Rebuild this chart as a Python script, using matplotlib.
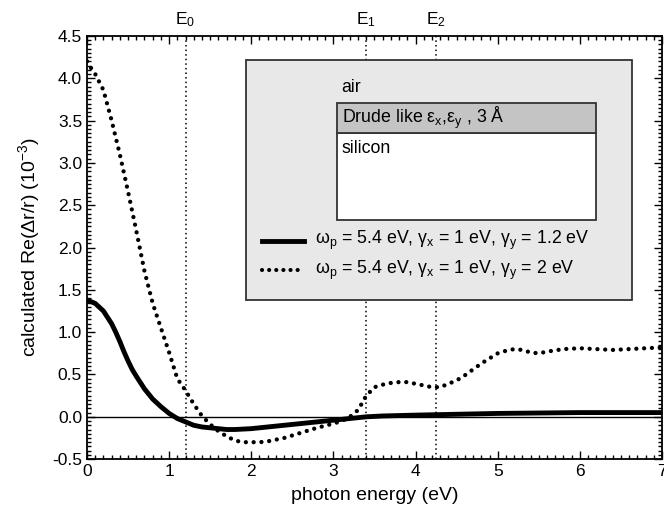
import matplotlib
matplotlib.use("Agg")
import matplotlib.pyplot as plt
from matplotlib.patches import Rectangle
from matplotlib.ticker import MultipleLocator

plt.rcParams['font.family'] = ['Liberation Sans', 'DejaVu Sans']
plt.rcParams['mathtext.fontset'] = 'custom'
plt.rcParams['mathtext.rm'] = 'Liberation Sans'
plt.rcParams['mathtext.it'] = 'Liberation Sans:italic'

# data
x_solid = [0, 0.1, 0.2, 0.3, 0.35, 0.4, 0.45, 0.5, 0.55, 0.6, 0.7, 0.8, 0.9, 1.0, 1.1, 1.2,
           1.3, 1.4, 1.5, 1.6, 1.7, 1.8, 2.0, 2.2, 2.4, 2.6, 2.8, 3.0, 3.2, 3.4, 3.6, 4.0,
           4.5, 5.0, 6.0, 7.0]
y_solid = [1.38, 1.34, 1.25, 1.10, 1.00, 0.89, 0.77, 0.66, 0.56, 0.48, 0.33, 0.21, 0.12,
           0.04, -0.02, -0.06, -0.10, -0.12, -0.13, -0.14, -0.15, -0.15, -0.14, -0.12,
           -0.10, -0.08, -0.06, -0.04, -0.02, 0.0, 0.01, 0.02, 0.03, 0.04, 0.05, 0.05]

x_dot = [0, 0.05, 0.1, 0.2, 0.3, 0.4, 0.5, 0.6, 0.7, 0.8, 0.9, 1.0, 1.1, 1.2, 1.3, 1.4,
         1.5, 1.6, 1.7, 1.8, 1.9, 2.0, 2.1, 2.2, 2.4, 2.6, 2.8, 3.0, 3.1, 3.2, 3.3, 3.4,
         3.5, 3.6, 3.7, 3.8, 3.9, 4.0, 4.1, 4.2, 4.3, 4.4, 4.5, 4.6, 4.7, 4.8, 4.9, 5.0,
         5.1, 5.2, 5.3, 5.4, 5.5, 5.6, 5.8, 6.0, 6.2, 6.4, 6.6, 6.8, 7.0]
y_dot = [4.2, 4.12, 4.05, 3.86, 3.5, 3.1, 2.66, 2.2, 1.72, 1.34, 1.05, 0.76, 0.45, 0.31,
         0.15, 0.01, -0.09, -0.17, -0.23, -0.28, -0.30, -0.30, -0.30, -0.29, -0.25, -0.19,
         -0.13, -0.08, -0.05, 0.0, 0.08, 0.25, 0.35, 0.38, 0.40, 0.41, 0.41, 0.39, 0.37,
         0.35, 0.35, 0.39, 0.43, 0.49, 0.56, 0.63, 0.69, 0.75, 0.78, 0.80, 0.79, 0.76,
         0.75, 0.77, 0.80, 0.81, 0.80, 0.79, 0.80, 0.81, 0.82]

transitions = [1.2, 3.4, 4.25]
transition_labels = ['E$_0$', 'E$_1$', 'E$_2$']
x_ticks = [0, 1, 2, 3, 4, 5, 6, 7]
y_ticks = [-0.5, 0.0, 0.5, 1.0, 1.5, 2.0, 2.5, 3.0, 3.5, 4.0, 4.5]

label_solid = 'ω$_{\\rm p}$ = 5.4 eV, γ$_{\\rm x}$ = 1 eV, γ$_{\\rm y}$ = 1.2 eV'
label_dot = 'ω$_{\\rm p}$ = 5.4 eV, γ$_{\\rm x}$ = 1 eV, γ$_{\\rm y}$ = 2 eV'

DOTS = (0, (0.01, 1.8))

fig = plt.figure(figsize=(6.64, 5.13), dpi=100)
ax = fig.add_axes([0.131, 0.105, 0.866, 0.825])

ax.set_xlim(0, 7)
ax.set_ylim(-0.5, 4.5)
ax.set_xticks(x_ticks)
ax.set_yticks(y_ticks)
ax.set_yticklabels([f'{v:.1f}' for v in y_ticks])
ax.xaxis.set_minor_locator(MultipleLocator(0.1))
ax.yaxis.set_minor_locator(MultipleLocator(0.05))
ax.tick_params(which='both', direction='in', top=True, right=True, labelsize=12.5, width=1)
ax.tick_params(which='major', length=6)
ax.tick_params(which='minor', length=3)
for s in ax.spines.values():
    s.set_linewidth(1.3)

ax.axhline(0, color='black', lw=1)
for xv, lab in zip(transitions, transition_labels):
    ax.axvline(xv, color='black', lw=1.1, linestyle=(0, (1.0, 2.0)))
    ax.text(xv, 4.58, lab, ha='center', va='bottom', fontsize=12.5)

ax.plot(x_solid, y_solid, color='black', lw=3.5, solid_capstyle='round', solid_joinstyle='round')
ax.plot(x_dot, y_dot, color='black', lw=3.1, linestyle=DOTS, dash_capstyle='round')

ax.set_xlabel('photon energy (eV)', fontsize=14, labelpad=6)
ax.set_ylabel(r'calculated Re($\Delta$r/r) (10$^{-3}$)', fontsize=14, labelpad=7)

# inset sketch
T = ax.transAxes
ax.add_patch(Rectangle((0.277, 0.376), 0.671, 0.567, transform=T, facecolor='#e8e8e8',
                       edgecolor='#333333', lw=1.3, zorder=5))
ax.add_patch(Rectangle((0.435, 0.565), 0.450, 0.206, transform=T, facecolor='white',
                       edgecolor='#333333', lw=1.3, zorder=6))
ax.add_patch(Rectangle((0.435, 0.771), 0.450, 0.071, transform=T, facecolor='#c4c4c4',
                       edgecolor='#333333', lw=1.3, zorder=6))
ax.text(0.443, 0.878, 'air', transform=T, fontsize=12.8, va='center', zorder=7)
ax.text(0.443, 0.806, 'Drude like ε$_{\\rm x}$,ε$_{\\rm y}$ , 3 Å', transform=T,
        fontsize=12.8, va='center', zorder=7)
ax.text(0.443, 0.735, 'silicon', transform=T, fontsize=12.8, va='center', zorder=7)

ax.plot([0.304, 0.378], [0.516, 0.516], transform=T, color='black', lw=3.5, zorder=7)
ax.plot([0.304, 0.378], [0.447, 0.447], transform=T, color='black', lw=3.0,
        linestyle=(0, (0.01, 1.7)), dash_capstyle='round', zorder=7)
ax.text(0.396, 0.516, label_solid, transform=T, fontsize=12.8, va='center', zorder=7)
ax.text(0.396, 0.447, label_dot, transform=T, fontsize=12.8, va='center', zorder=7)

fig.savefig('out.png', dpi=100)
